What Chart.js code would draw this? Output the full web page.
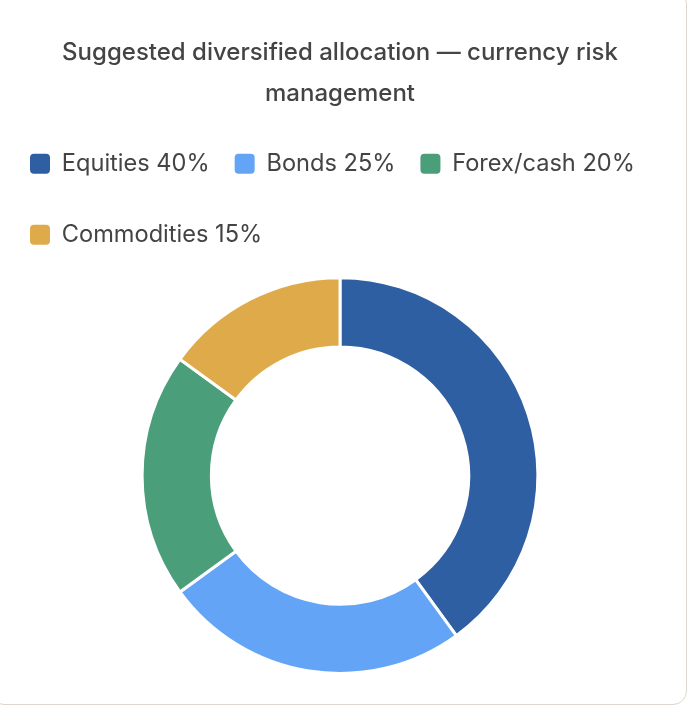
<!DOCTYPE html>
<html>
<head>
<meta charset="utf-8">
<script src="https://cdn.jsdelivr.net/npm/chart.js@4.4.1/dist/chart.umd.min.js"></script>
<style>
  html, body { margin: 0; padding: 0; background: #ffffff; width: 688px; height: 706px; overflow: hidden; }
  .card { position: absolute; left: -10px; top: -10px; width: 697px; height: 715px; box-sizing: border-box;
          border: 1px solid #ddd7cc; border-radius: 14px; background: #ffffff; }
  .wrap { position: absolute; left: 0; top: 0; width: 680px; height: 675px; }
</style>
</head>
<body>
<div class="card"></div>
<div class="wrap"><canvas id="c"></canvas></div>
<script>
// ---- data ----
const categories = ['Equities', 'Bonds', 'Forex/cash', 'Commodities'];
const shares = [40, 25, 20, 15];
const sliceColors = ['#2F5FA3', '#64A4F6', '#4B9E7A', '#DFAA4A'];
const titleLines = ['Suggested diversified allocation — currency risk', 'management'];

const labels = categories.map((c, i) => c + ' ' + shares[i] + '%');

const ROW_STEP = 71;      // distance between legend rows
const LEGEND_EXTRA = 42;  // extra space below legend

const legendRows = {
  id: 'legendRows',
  beforeUpdate(chart) {
    const lg = chart.legend;
    if (!lg || lg._rowsPatched) return;
    lg._rowsPatched = true;
    const proto = Object.getPrototypeOf(lg);
    lg.fit = function () {
      proto.fit.call(this);
      if (this.options.display) this.height += LEGEND_EXTRA;
    };
    lg._draw = function () {
      const all = this.legendItems;
      const hb = this.legendHitBoxes || [];
      const tops = [...new Set(hb.map(h => h.top))].sort((a, b) => a - b);
      const rowOf = hb.map(h => tops.indexOf(h.top));
      const ctx = this.ctx;
      const nRows = Math.max(1, tops.length);
      for (let r = 0; r < nRows; r++) {
        this.legendItems = all.filter((_, i) => (rowOf[i] === undefined ? 0 : rowOf[i]) === r);
        ctx.save();
        ctx.translate(0, r * ROW_STEP);
        proto._draw.call(this);
        ctx.restore();
      }
      this.legendItems = all;
    };
  }
};

const baseGen = Chart.overrides.doughnut.plugins.legend.labels.generateLabels;

new Chart(document.getElementById('c'), {
  type: 'doughnut',
  data: {
    labels: labels,
    datasets: [{
      data: shares,
      backgroundColor: sliceColors,
      borderColor: '#ffffff',
      borderWidth: 3,
      hoverOffset: 0
    }]
  },
  options: {
    responsive: true,
    maintainAspectRatio: false,
    animation: false,
    cutout: '65%',
    layout: { padding: { left: 5, right: 5, top: 0, bottom: 0 } },
    plugins: {
      title: {
        display: true,
        text: titleLines,
        color: '#444444',
        font: { family: 'Inter', size: 24, weight: '500', lineHeight: 1.6875 },
        padding: { top: 32.75, bottom: 13.25 }
      },
      legend: {
        position: 'top',
        align: 'start',
        labels: {
          color: '#444444',
          font: { family: 'Inter', size: 23.6, weight: '400' },
          boxWidth: 20,
          boxHeight: 20,
          padding: 25,
          generateLabels(chart) {
            return baseGen(chart).map(it => Object.assign(it, { lineWidth: 0, borderRadius: 4, strokeStyle: 'rgba(0,0,0,0)' }));
          }
        }
      },
      tooltip: { enabled: false }
    }
  },
  plugins: [legendRows]
});
</script>
</body>
</html>
